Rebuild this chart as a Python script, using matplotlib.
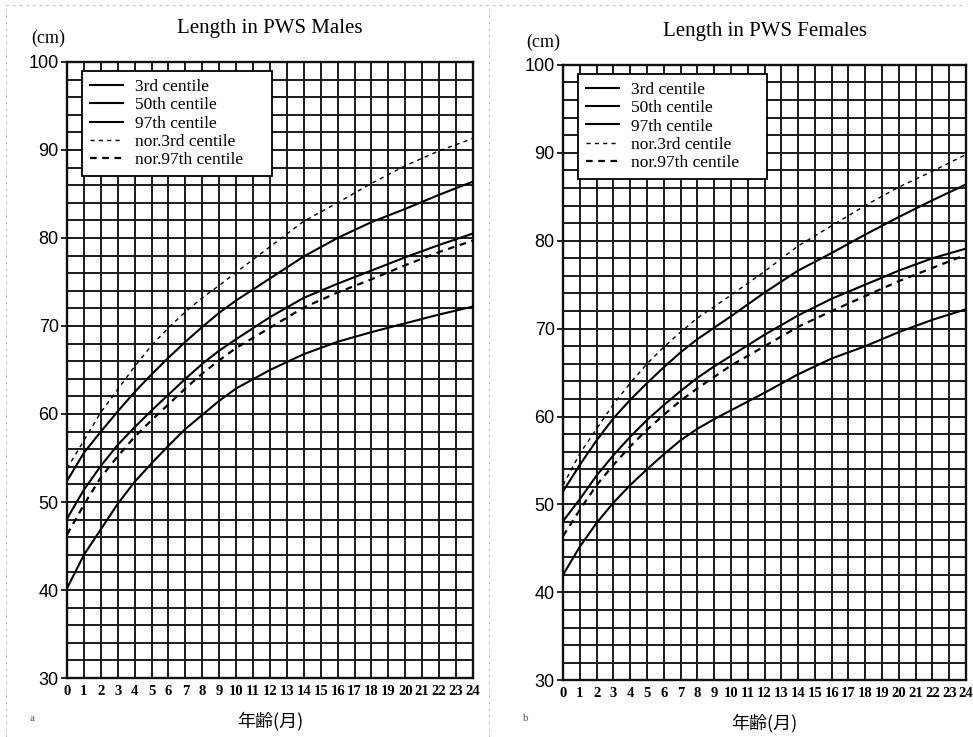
import matplotlib
matplotlib.use("Agg")
import matplotlib.pyplot as plt
from matplotlib.lines import Line2D

# PWS length charts

months = [0, 1, 2, 3, 4, 5, 6, 7, 8, 9, 10, 12, 14, 16, 18, 20, 22, 24]

# males
m_p3 = [40.2, 44.0, 46.9, 49.8, 52.3, 54.4, 56.4, 58.3, 59.9, 61.5, 62.9, 65.0, 66.8, 68.2, 69.3, 70.3, 71.3, 72.2]
m_p50 = [48.1, 51.4, 54.1, 56.5, 58.5, 60.4, 62.2, 64.0, 65.7, 67.2, 68.5, 71.0, 73.2, 74.8, 76.3, 77.8, 79.2, 80.5]
m_p97 = [52.4, 55.6, 58.0, 60.3, 62.5, 64.5, 66.4, 68.2, 69.9, 71.5, 72.9, 75.4, 77.9, 80.0, 81.8, 83.3, 84.9, 86.4]
m_nor_up = [53.8, 57.0, 60.2, 62.8, 65.4, 67.8, 69.8, 71.6, 73.2, 74.6, 76.1, 79.0, 81.9, 84.0, 86.2, 88.2, 89.9, 91.3]
m_nor_low = [46.3, 49.7, 52.8, 55.2, 57.4, 59.3, 61.1, 62.9, 64.6, 66.1, 67.5, 69.8, 72.1, 73.8, 75.3, 76.9, 78.4, 79.7]

# females
f_p3 = [42.0, 45.2, 47.9, 50.2, 52.2, 54.0, 55.7, 57.3, 58.6, 59.7, 60.7, 62.7, 64.8, 66.6, 68.0, 69.6, 71.0, 72.2]
f_p50 = [48.1, 50.6, 53.3, 55.6, 57.7, 59.6, 61.3, 62.9, 64.4, 65.7, 66.9, 69.3, 71.5, 73.4, 75.0, 76.6, 78.0, 79.1]
f_p97 = [51.5, 54.5, 57.3, 59.8, 61.9, 63.8, 65.6, 67.3, 68.8, 70.1, 71.4, 74.1, 76.6, 78.6, 80.7, 82.7, 84.6, 86.4]
f_nor_up = [52.2, 55.8, 58.6, 61.4, 63.8, 66.0, 67.9, 69.6, 71.2, 72.5, 73.8, 76.5, 79.4, 81.7, 84.0, 86.1, 87.9, 89.8]
f_nor_low = [46.4, 49.4, 52.2, 54.5, 56.6, 58.5, 60.2, 61.8, 63.2, 64.5, 65.8, 68.0, 70.2, 72.0, 73.7, 75.4, 76.9, 78.4]

titles = ["Length in PWS Males", "Length in PWS Females"]
xticks = list(range(0, 25))
yticks = [30, 40, 50, 60, 70, 80, 90, 100]
xlabel = "年齢(月)"

serif = "Liberation Serif"
sans = "Liberation Sans"
cjk = ["Noto Sans CJK JP", "DejaVu Sans"]

fig = plt.figure(figsize=(9.73, 7.37), dpi=100)
ax1 = fig.add_axes([0.0689, 0.080, 0.4171, 0.836])
ax2 = fig.add_axes([0.5787, 0.077, 0.4141, 0.835])

# faint scan borders
for xs, ys in [([0.006, 0.006], [0.0, 0.995]), ([0.503, 0.503], [0.0, 0.995]),
               ([0.006, 0.99], [0.993, 0.993])]:
    fig.add_artist(Line2D(xs, ys, color="#bbbbbb", lw=0.8, ls=(0, (2, 4))))

panels = [
    (ax1, m_p3, m_p50, m_p97, m_nor_up, m_nor_low, titles[0], (-0.047, 1.039)),
    (ax2, f_p3, f_p50, f_p97, f_nor_up, f_nor_low, titles[1], (-0.05, 1.037)),
]

for ax, p3, p50, p97, nup, nlow, title, cmpos in panels:
    ax.set_xlim(0, 24)
    ax.set_ylim(30, 100)
    # grid: every month, every 2 cm
    for m in range(1, 24):
        ax.axvline(m, color="#1a1a1a", lw=1.4, zorder=1)
    for v in range(32, 100, 2):
        ax.axhline(v, color="#1a1a1a", lw=1.4, zorder=1)
    for s in ax.spines.values():
        s.set_linewidth(1.7)
        s.set_color("#111111")

    ax.plot(months, p3, color="black", lw=1.5, label="3rd centile", zorder=3)
    ax.plot(months, p50, color="black", lw=1.5, label="50th centile", zorder=3)
    ax.plot(months, p97, color="black", lw=1.5, label="97th centile", zorder=3)
    ax.plot(months, nup, color="black", lw=1.0, ls=(0, (3, 3)),
            label="nor.3rd centile", zorder=3)
    ax.plot(months, nlow, color="black", lw=1.6, ls=(0, (3, 2.5)),
            label="nor.97th centile", zorder=3)

    ax.set_xticks(xticks)
    ax.set_xticklabels([str(t) for t in xticks], fontfamily=serif,
                       fontsize=10.5, fontweight="bold")
    ax.set_yticks(yticks)
    ax.set_yticklabels([str(t) for t in yticks], fontfamily=sans, fontsize=13)
    ax.tick_params(length=4, width=1.2, direction="out", pad=2)
    ax.tick_params(axis="x", length=0, pad=5)

    ax.set_title(title, fontfamily=serif, fontsize=15, pad=21)
    ax.text(cmpos[0], cmpos[1], "(cm)", transform=ax.transAxes,
            fontfamily=serif, fontsize=13, ha="center", va="center")
    ax.set_xlabel(xlabel, family=cjk, fontsize=13, labelpad=10)

    leg = ax.legend(loc="upper left", bbox_to_anchor=(0.037, 0.985, 0.468, 0.0),
                    mode="expand", prop={"family": serif, "size": 12.5},
                    frameon=True, fancybox=False, handlelength=1.9,
                    handletextpad=0.7, labelspacing=0.12, borderpad=0.45,
                    borderaxespad=0)
    leg.get_frame().set_edgecolor("black")
    leg.get_frame().set_linewidth(1.3)
    leg.get_frame().set_alpha(1)
    leg.set_zorder(5)

fig.text(0.03, 0.022, "a", fontfamily=serif, fontsize=8, color="#555555")
fig.text(0.537, 0.022, "b", fontfamily=serif, fontsize=8, color="#555555")

fig.savefig("out.png", dpi=100)
